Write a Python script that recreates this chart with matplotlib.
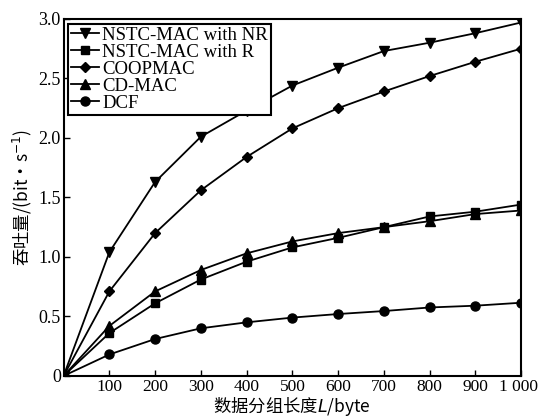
import matplotlib
matplotlib.use("Agg")
import matplotlib.pyplot as plt
import matplotlib.transforms as mtransforms

x = [0, 100, 200, 300, 400, 500, 600, 700, 800, 900, 1000]
nr = [0, 1.04, 1.63, 2.01, 2.23, 2.44, 2.59, 2.73, 2.80, 2.88, 2.97]
r = [0, 0.36, 0.61, 0.81, 0.96, 1.08, 1.16, 1.25, 1.34, 1.38, 1.44]
coop = [0, 0.71, 1.20, 1.56, 1.84, 2.08, 2.25, 2.39, 2.52, 2.64, 2.75]
cd = [0, 0.42, 0.71, 0.89, 1.03, 1.13, 1.20, 1.25, 1.30, 1.36, 1.39]
dcf = [0, 0.18, 0.31, 0.40, 0.45, 0.49, 0.52, 0.545, 0.575, 0.59, 0.615]
labels = ["NSTC-MAC with NR", "NSTC-MAC with R", "COOPMAC", "CD-MAC", "DCF"]
xticks = [100, 200, 300, 400, 500, 600, 700, 800, 900, 1000]
xticklabels = ["100", "200", "300", "400", "500", "600", "700", "800", "900", "1 000"]
yticks = [0, 0.5, 1.0, 1.5, 2.0, 2.5, 3.0]
yticklabels = ["0", "0.5", "1.0", "1.5", "2.0", "2.5", "3.0"]

serif = ["Liberation Serif", "DejaVu Serif"]
cjk = ["Noto Sans CJK SC", "Liberation Serif"]

fig = plt.figure(figsize=(5.39, 4.20), dpi=100)
ax = fig.add_axes([0.118, 0.105, 0.849, 0.850])

series = [nr, r, coop, cd, dcf]
markers = ["v", "s", "D", "^", "o"]
msizes = [6.5, 6, 5.5, 6.5, 6.5]
for ys, m, ms, lab in zip(series, markers, msizes, labels):
    ax.plot(x, ys, color="black", lw=1.3, marker=m, ms=ms, mfc="black", mec="black", label=lab)

ax.set_xlim(0, 1000)
ax.set_ylim(0, 3.0)
ax.set_xticks(xticks)
ax.set_xticklabels(xticklabels, fontfamily=serif, fontsize=12.5)
ax.set_yticks(yticks)
ax.set_yticklabels(yticklabels, fontfamily=serif, fontsize=13)
ax.tick_params(direction="in", length=4, width=1, top=False, right=False, pad=2)
for s in ax.spines.values():
    s.set_linewidth(1.5)

# nudge the last x tick label so it stays inside the canvas
last = ax.get_xticklabels()[-1]
last.set_transform(last.get_transform() + mtransforms.ScaledTranslation(-3 / 100, 0, fig.dpi_scale_trans))

ax.set_xlabel("数据分组长度$\\it{L}$/byte", fontfamily=cjk, fontsize=12.5, labelpad=0)
ax.set_ylabel("吞吐量/(bit·s$^{-1}$)", fontfamily=cjk, fontsize=12.5, labelpad=3)

leg = ax.legend(loc="upper left", prop={"family": serif, "size": 13.5}, frameon=True,
                fancybox=False, edgecolor="black", framealpha=1, labelspacing=0.0,
                handlelength=1.5, handletextpad=0.15, borderpad=0.15, borderaxespad=0.25)
leg.get_frame().set_linewidth(1.5)

fig.savefig("out.png", dpi=100)
